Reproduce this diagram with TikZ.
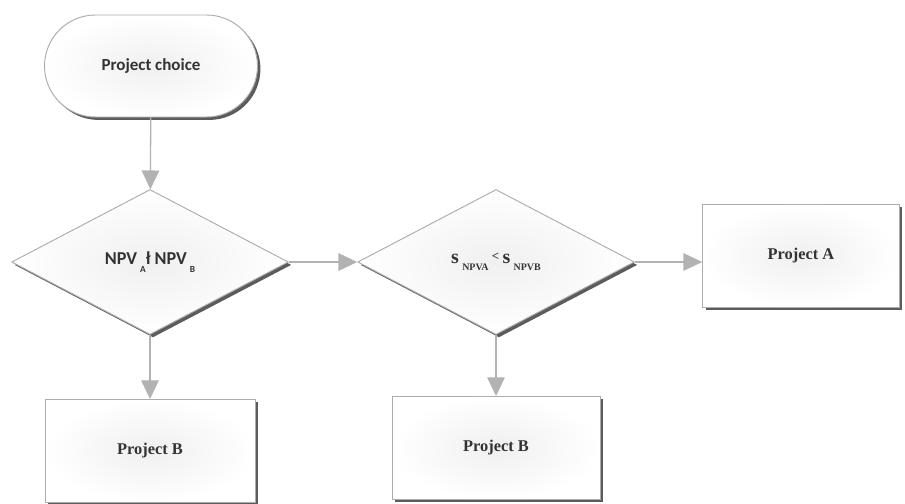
\documentclass[tikz,border=0pt]{standalone}
\usepackage{fontspec}
\setmainfont{Liberation Serif}
\newfontfamily\carlito{Carlito}
\usetikzlibrary{positioning,shapes.geometric,shapes.misc,arrows.meta,shadows}

\begin{document}
\begin{tikzpicture}[x=0.03cm,y=-0.03cm,
    blocco/.style={draw=gray!65, line width=0.8pt, inner color=gray!12, outer color=white,
      drop shadow={shadow xshift=2.5pt, shadow yshift=-2.5pt, fill=black!75, opacity=0.85},
      text=black!80, inner sep=0pt},
    scatola/.style={blocco, rectangle, minimum height=3.09cm,
      font=\bfseries\fontsize{14}{16}\selectfont},
    rombo/.style={blocco, diamond, minimum width=8.3cm, minimum height=4.35cm},
    freccia/.style={color=gray!60, line width=1.1pt, -{Triangle[length=16pt,width=15pt]}}]
    \useasboundingbox (0,0) rectangle (905,503);

    % inizio
    \node[blocco, rounded rectangle, minimum width=6.39cm, minimum height=3.06cm,
      font=\carlito\bfseries\fontsize{14.5}{16}\selectfont] (S) at (151,66) {Project choice};

    % rombi
    \node[rombo] (D1) at (150,262)
      {\carlito\bfseries\fontsize{15.5}{17}\selectfont NPV\,\raisebox{-7pt}{\fontsize{8}{9}\selectfont A}\l\ NPV\,\raisebox{-7pt}{\fontsize{8}{9}\selectfont B}};
    \node[rombo] (D2) at (496,262)
      {\bfseries\fontsize{17}{19}\selectfont s\,\raisebox{-6pt}{\fontsize{8.5}{9}\selectfont NPVA}\,\raisebox{2pt}{\fontsize{11}{12}\selectfont <}\,s\,\raisebox{-6pt}{\fontsize{8.5}{9}\selectfont NPVB}};

    % progetti
    \node[scatola, minimum width=5.9cm] (PA) at (801,256) {Project A};
    \node[scatola, minimum width=6.3cm] (PB1) at (150,451) {Project B};
    \node[scatola, minimum width=6.24cm] (PB2) at (496,448) {Project B};

    % frecce
    \draw[freccia] (S) -- (D1);
    \draw[freccia] (D1) -- (PB1);
    \draw[freccia] (D1) -- (D2);
    \draw[freccia] (D2.east) -- (D2.east -| PA.west);
    \draw[freccia] (D2) -- (PB2);
\end{tikzpicture}
\end{document}
